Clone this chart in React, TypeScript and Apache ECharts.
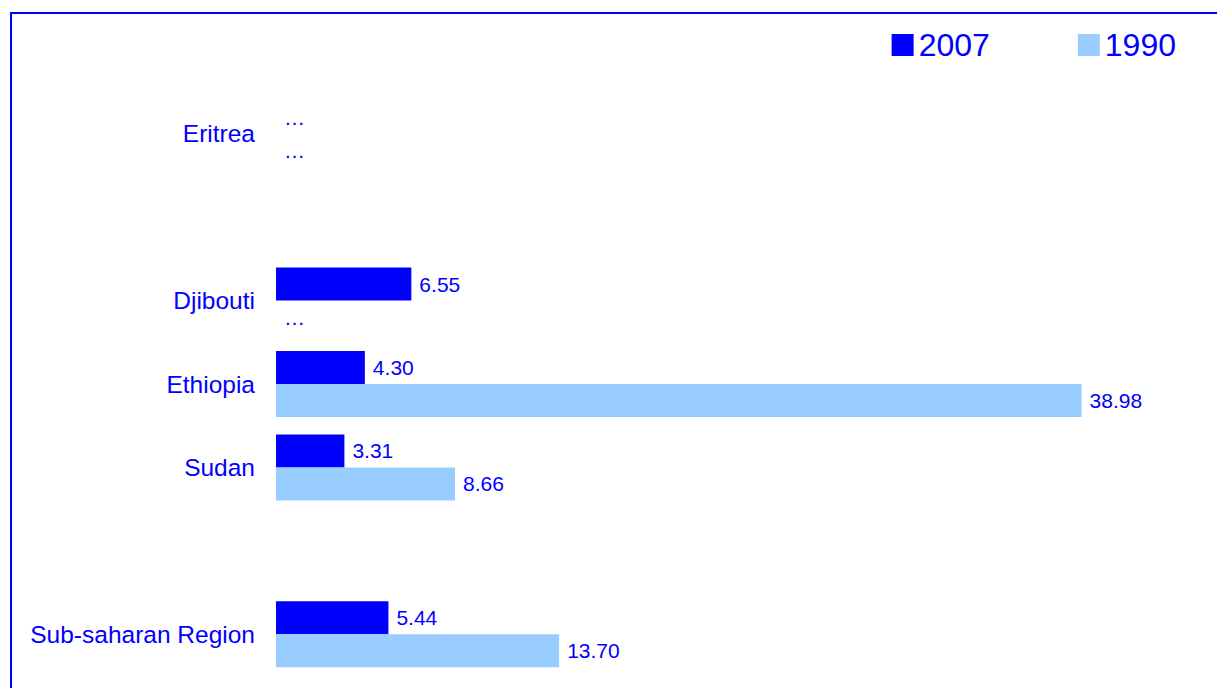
import React, { useEffect, useRef } from "react";
import * as echarts from "echarts";

const categories: string[] = ["Eritrea", "", "Djibouti", "Ethiopia", "Sudan", "", "Sub-saharan Region"];
const values2007: (number | null)[] = [null, null, 6.55, 4.3, 3.31, null, 5.44];
const values1990: (number | null)[] = [null, null, null, 38.98, 8.66, null, 13.7];
const missingMark: boolean[] = [true, false, true, false, false, false, false];
const seriesNames: string[] = ["2007", "1990"];
const seriesColors: string[] = ["#0000FF", "#99CCFF"];

const FONT = "'Liberation Sans', Arial, sans-serif";
const BLUE = "#0000FF";

function buildData(vals: (number | null)[]) {
  return vals.map((v, i) => {
    if (v === null) {
      if (missingMark[i]) {
        return { value: 0, label: { show: true, formatter: "\u2026" } };
      }
      return { value: null };
    }
    return { value: v };
  });
}

export default function App() {
  const ref = useRef<HTMLDivElement>(null);
  useEffect(() => {
    if (!ref.current) return;
    const chart = echarts.init(ref.current, undefined, { renderer: "svg" });
    const labelCfg = {
      show: true,
      position: "right",
      distance: 8,
      color: BLUE,
      fontFamily: FONT,
      fontSize: 21,
      padding: [0, 0, 4, 0],
      formatter: (p: any) => (p.value === 0 ? "\u2026" : Number(p.value).toFixed(2)),
    };
    chart.setOption({
      animation: false,
      textStyle: { fontFamily: FONT },
      legend: {
        data: seriesNames,
        right: 36,
        top: 24,
        itemWidth: 22,
        itemHeight: 22,
        itemGap: 88,
        icon: "rect",
        textStyle: { color: BLUE, fontSize: 32, fontFamily: FONT },
      },
      grid: { left: 276, top: 92, width: 930, height: 584, containLabel: false },
      xAxis: {
        type: "value",
        min: 0,
        max: 45,
        show: false,
        splitLine: { show: false },
      },
      yAxis: {
        type: "category",
        data: categories,
        inverse: true,
        axisLine: { show: false },
        axisTick: { show: false },
        axisLabel: {
          color: BLUE,
          fontSize: 24.5,
          fontFamily: FONT,
          margin: 21,
          padding: [0, 0, 4, 0],
        },
      },
      graphic: [
        { type: "line", shape: { x1: 10, y1: 13, x2: 1217, y2: 13 }, style: { stroke: BLUE, lineWidth: 2 } },
        { type: "line", shape: { x1: 11, y1: 12, x2: 11, y2: 688 }, style: { stroke: BLUE, lineWidth: 2 } },
      ],
      series: [
        {
          name: seriesNames[0],
          type: "bar",
          data: buildData(values2007),
          barWidth: 33,
          barGap: "0%",
          itemStyle: { color: seriesColors[0] },
          label: labelCfg,
        },
        {
          name: seriesNames[1],
          type: "bar",
          data: buildData(values1990),
          barWidth: 33,
          barGap: "0%",
          itemStyle: { color: seriesColors[1] },
          label: labelCfg,
        },
      ],
    });
    return () => chart.dispose();
  }, []);
  return (
    <div
      ref={ref}
      style={{ position: "fixed", left: 0, top: 0, width: 1217, height: 688, background: "#fff" }}
    />
  );
}
